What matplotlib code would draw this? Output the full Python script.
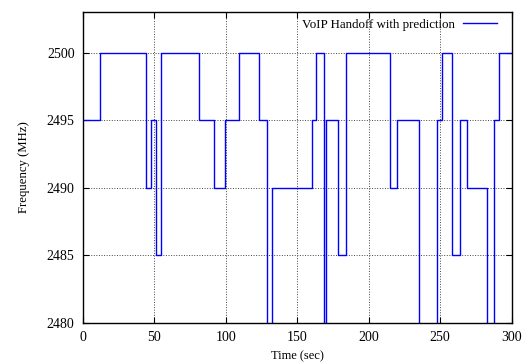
import numpy as np
import matplotlib.pyplot as plt

plt.rc('font', family='serif', serif=['Liberation Serif', 'DejaVu Serif'])

# step change times (sec) and frequency held from that time on (MHz)
# 2470 stands for values below the visible range
times = [0, 12, 44, 48, 51, 55, 81, 92, 99.5, 109.5, 123.5, 129, 132.5,
         160, 163, 169, 170, 178.6, 184, 215, 220, 235, 248, 251, 258,
         264, 269, 283, 288, 291, 300]
freq = [2495, 2500, 2490, 2495, 2485, 2500, 2495, 2490, 2495, 2500, 2495, 2470, 2490,
        2495, 2500, 2470, 2495, 2485, 2500, 2490, 2495, 2470, 2495, 2500, 2485,
        2495, 2490, 2470, 2495, 2500, 2500]

fig = plt.figure(figsize=(5.28, 3.62), dpi=100)
ax = fig.add_axes([0.157, 0.108, 0.812, 0.859])

ax.step(times, freq, where='post', color='#0000ff', linewidth=1.0,
        label='VoIP Handoff with prediction')

ax.set_xlim(0, 300)
ax.set_ylim(2480, 2503)
ax.set_xticks(np.arange(0, 301, 50))
ax.set_yticks(np.arange(2480, 2501, 5))
ax.tick_params(direction='in', length=4, top=True, right=True, labelsize=10, pad=6)
ax.grid(color='#444444', linestyle=':', linewidth=0.7)
for s in ax.spines.values():
    s.set_linewidth(1.0)

ax.set_xlabel('Time (sec)', fontsize=9, labelpad=4)
ax.set_ylabel('Frequency (MHz)', fontsize=9.2, labelpad=12)

leg = ax.legend(loc='upper right', frameon=False, markerfirst=False, fontsize=9.4,
                handlelength=2.6, borderaxespad=0.1, handletextpad=0.6,
                bbox_to_anchor=(0.98, 1.0))

plt.savefig('out.png', dpi=100)
